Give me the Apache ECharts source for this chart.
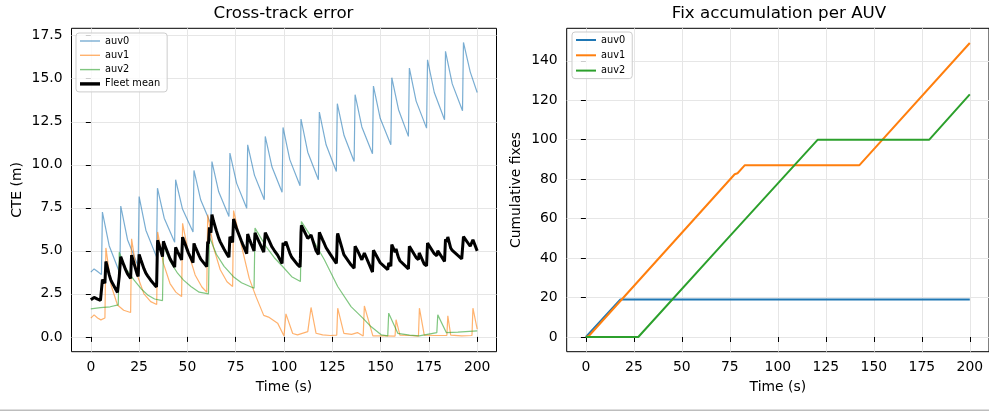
<!DOCTYPE html>
<html>
<head>
<meta charset="utf-8">
<script src="https://cdn.jsdelivr.net/npm/echarts@6/dist/echarts.min.js"></script>
<style>
html, body { margin: 0; padding: 0; background: #fff; }
#main { width: 989px; height: 411px; }
</style>
</head>
<body>
<div id="main"></div>
<script>
// tick positions
const timeTicks = [0, 25, 50, 75, 100, 125, 150, 175, 200];
const cteTicks = [0, 2.5, 5, 7.5, 10, 12.5, 15, 17.5];
const fixTicks = [0, 20, 40, 60, 80, 100, 120, 140];

// cross-track error per AUV, [time (s), CTE (m)]
const cteAuv0 = [
  [0, 3.76], [1.7, 3.95], [3.5, 3.8], [5.5, 3.62],
  [6.0, 7.25], [9.5, 5.3], [15.0, 3.7],
  [15.5, 7.6], [19.0, 5.65], [24.5, 4.1],
  [25.0, 8.15], [28.5, 6.2], [34.0, 4.65],
  [34.5, 8.64], [38.0, 6.9], [43.4, 5.5],
  [43.9, 9.13], [47.4, 7.45], [52.9, 6.1],
  [53.4, 9.67], [56.9, 7.95], [62.2, 6.55],
  [62.7, 10.19], [66.2, 8.43], [71.5, 7.0],
  [72.0, 10.68], [75.5, 8.92], [80.7, 7.48],
  [81.2, 11.16], [84.7, 9.4], [89.8, 7.97],
  [90.3, 11.65], [93.8, 9.87], [99.0, 8.4],
  [99.5, 12.17], [103.0, 10.3], [108.3, 8.78],
  [108.8, 12.66], [112.3, 10.73], [117.8, 9.13],
  [118.3, 13.06], [121.8, 11.16], [127.1, 9.61],
  [127.6, 13.55], [131.1, 11.7], [136.3, 10.19],
  [136.8, 14.07], [140.3, 12.2], [145.8, 10.64],
  [146.3, 14.57], [149.8, 12.7], [155.3, 11.16],
  [155.8, 15.06], [159.3, 13.2], [164.4, 11.65],
  [164.9, 15.62], [168.4, 13.7], [173.8, 12.13],
  [174.3, 16.1], [177.8, 14.2], [183.1, 12.62],
  [183.6, 16.59], [187.1, 14.7], [192.4, 13.14],
  [192.9, 17.11], [196.4, 15.4], [200, 14.2]
];
const cteAuv1 = [
  [0, 1.09], [1.7, 1.28], [3.5, 1.1], [5.2, 0.99], [7.3, 1.1],
  [7.8, 5.17], [10.5, 3.0], [13.8, 1.85], [17.0, 1.55], [20.6, 1.42],
  [21.1, 5.7], [24.0, 3.6], [27.5, 2.5], [31.0, 2.05], [34.1, 1.88],
  [34.6, 6.1], [37.5, 4.3], [41.0, 3.1], [44.0, 2.6], [47.0, 2.34],
  [47.5, 6.6], [50.5, 4.9], [54.0, 3.6], [57.5, 2.9], [60.0, 2.6],
  [60.5, 7.1], [63.5, 5.2], [67.0, 3.9], [70.5, 3.2], [73.4, 2.93],
  [73.9, 7.34], [78.6, 5.0], [82.0, 3.4], [85.5, 2.34], [89.5, 1.25], [92.0, 1.15], [96.7, 0.8], [100.0, 0.05],
  [101.0, 1.34], [104.5, 0.2], [107.0, 0.12], [112.3, 0.31],
  [114.0, 1.71], [116.6, 0.21], [120.0, 0.12], [124.0, 0.08], [127.3, 0.1],
  [127.8, 1.67], [131.0, 0.2], [135.0, 0.15], [138.0, 0.25], [141.0, 0.05],
  [141.6, 1.8], [146.0, 0.06], [152.0, 0.06], [157.5, 0.05],
  [158.0, 1.0], [160.0, 0.1], [165.0, 0.08], [169.6, 0.05],
  [170.1, 1.67], [172.6, 0.1], [178.0, 0.08], [184.3, 0.08],
  [184.8, 1.22], [186.3, 0.1], [192.0, 0.06], [197.3, 0.08],
  [197.8, 1.67], [200, 0.45]
];
const cteAuv2 = [
  [0, 1.63], [5.0, 1.7], [10.0, 1.75], [14.2, 1.86],
  [14.7, 4.92], [18.0, 4.0], [22.4, 3.3], [26.0, 2.8], [29.4, 2.44], [33.0, 2.2], [37.1, 2.11],
  [37.6, 5.3], [41.0, 4.4], [44.9, 3.7], [48.0, 3.3], [51.8, 2.93], [56.1, 2.6], [60.9, 2.5],
  [61.4, 5.8], [65.0, 4.8], [69.0, 4.1], [73.8, 3.5], [78.0, 3.15], [84.5, 2.83],
  [85.0, 6.32], [90.7, 5.25], [95.0, 4.6], [99.3, 4.09], [104.0, 3.5], [108.5, 3.22],
  [109.0, 6.7], [114.0, 5.83], [120.9, 4.48], [127.8, 2.93], [134.7, 1.76], [140.8, 1.09], [145.0, 0.6], [150.3, 0.12], [153.7, 0.06],
  [154.2, 1.38], [158.9, 0.21], [165.0, 0.1], [170.0, 0.06], [179.1, 0.25],
  [179.6, 1.28], [184.0, 0.25], [190.0, 0.28], [200, 0.35]
];

// cumulative fixes, [time (s), count]
const fixAuv0 = [[0, 0], [18, 19], [200, 19]];
const fixAuv1 = [[0, 0], [1.5, 0.5], [77.5, 82.5], [79, 83], [82.7, 87], [142.4, 87], [200, 149]];
const fixAuv2 = [[0, 0], [27.3, 0], [72.6, 48.6], [73.4, 49.1], [120.8, 100], [178.9, 100], [200, 123]];

// fleet mean is the average of the three AUVs
function valueAt(pts, t) {
  for (let i = 1; i < pts.length; i++) {
    if (t <= pts[i][0]) {
      const a = pts[i - 1], b = pts[i];
      return a[1] + (b[1] - a[1]) * (t - a[0]) / (b[0] - a[0]);
    }
  }
  return pts[pts.length - 1][1];
}
const meanTimes = Array.from(new Set([...cteAuv0, ...cteAuv1, ...cteAuv2].map(p => p[0]))).sort((a, b) => a - b);
const fleetMean = meanTimes.map(t => [t, (valueAt(cteAuv0, t) + valueAt(cteAuv1, t) + valueAt(cteAuv2, t)) / 3]);

const FONT = 'DejaVu Sans';
const BLUE = '#1f77b4', ORANGE = '#ff7f0e', GREEN = '#2ca02c';
const FIX = ' (fixes)';   // suffix to keep the right-hand series apart from the left ones

function xAxis(idx) {
  return {
    type: 'value', gridIndex: idx, min: -10, max: 210,
    axisLine: { show: false },
    axisTick: { show: true, customValues: timeTicks, length: 5, lineStyle: { color: '#000', width: 1 } },
    axisLabel: { customValues: timeTicks, margin: 9, fontSize: 13.9, color: '#000', fontFamily: FONT },
    splitLine: { show: true, lineStyle: { color: '#e6e6e6', width: 1 } },
    name: 'Time (s)', nameLocation: 'middle', nameGap: 29,
    nameTextStyle: { fontSize: 13.9, color: '#000', fontFamily: FONT }
  };
}
function yAxis(idx, min, max, ticks, fmt, name, gap) {
  return {
    type: 'value', gridIndex: idx, min: min, max: max,
    axisLine: { show: false },
    axisTick: { show: true, customValues: ticks, length: 5, lineStyle: { color: '#000', width: 1 } },
    axisLabel: { customValues: ticks, margin: 9, fontSize: 13.9, color: '#000', fontFamily: FONT, formatter: fmt },
    splitLine: { show: true, lineStyle: { color: '#e6e6e6', width: 1 } },
    name: name, nameLocation: 'middle', nameGap: gap,
    nameTextStyle: { fontSize: 13.9, color: '#000', fontFamily: FONT }
  };
}
function line(name, data, xi, color, width, opacity, z) {
  return {
    type: 'line', name: name, data: data, xAxisIndex: xi, yAxisIndex: xi,
    symbol: 'none', showSymbol: false, z: z || 2,
    lineStyle: { color: color, width: width, opacity: opacity },
    itemStyle: { color: color }
  };
}
// legend entry drawn as a short bar of the line's width
function item(name, color, opacity, width) {
  return {
    name: name,
    icon: 'path://M0,0H20V' + width + 'H0Z',
    itemStyle: { color: color, opacity: opacity, borderWidth: 0 }
  };
}
function legend(left, top, gap, items) {
  return {
    orient: 'vertical', left: left, top: top, padding: [3, 7, 3, 4],
    itemWidth: 20, itemHeight: 10, itemGap: gap, symbolKeepAspect: true,
    backgroundColor: 'rgba(255,255,255,0.8)', borderColor: '#cccccc', borderWidth: 1, borderRadius: 3,
    textStyle: { fontSize: 9.8, color: '#000', fontFamily: FONT },
    formatter: n => n.replace(FIX, ''),
    data: items
  };
}

const chart = echarts.init(document.getElementById('main'), null, { renderer: 'canvas' });
chart.setOption({
  animation: false,
  backgroundColor: '#fff',
  title: [
    { text: 'Cross-track error', left: 283.5, top: 5, textAlign: 'center', padding: 0,
      textStyle: { fontSize: 16.7, fontWeight: 'normal', color: '#000', fontFamily: FONT } },
    { text: 'Fix accumulation per AUV', left: 779, top: 5, textAlign: 'center', padding: 0,
      textStyle: { fontSize: 16.7, fontWeight: 'normal', color: '#000', fontFamily: FONT } }
  ],
  grid: [
    { left: 71.5, top: 28.3, width: 425, height: 323.4, show: true, borderColor: '#000', borderWidth: 1, backgroundColor: 'transparent' },
    { left: 566.7, top: 28.3, width: 425, height: 323.4, show: true, borderColor: '#000', borderWidth: 1, backgroundColor: 'transparent' }
  ],
  xAxis: [xAxis(0), xAxis(1)],
  yAxis: [
    yAxis(0, -0.86, 17.93, cteTicks, v => v.toFixed(1), 'CTE (m)', 47),
    yAxis(1, -7.45, 156.45, fixTicks, v => String(v), 'Cumulative fixes', 43)
  ],
  legend: [
    legend(76, 33, 4.3, [
      item('auv0', BLUE, 0.6, 1.4),
      item('auv1', ORANGE, 0.6, 1.4),
      item('auv2', GREEN, 0.6, 1.4),
      item('Fleet mean', '#000', 1, 3.4)
    ]),
    legend(572, 32, 5.3, [
      item('auv0' + FIX, BLUE, 1, 2),
      item('auv1' + FIX, ORANGE, 1, 2),
      item('auv2' + FIX, GREEN, 1, 2)
    ])
  ],
  series: [
    line('auv0', cteAuv0, 0, BLUE, 1.2, 0.6),
    line('auv1', cteAuv1, 0, ORANGE, 1.2, 0.6),
    line('auv2', cteAuv2, 0, GREEN, 1.2, 0.6),
    line('Fleet mean', fleetMean, 0, '#000', 3, 1, 3),
    line('auv0' + FIX, fixAuv0, 1, BLUE, 2, 1),
    line('auv1' + FIX, fixAuv1, 1, ORANGE, 2, 1),
    line('auv2' + FIX, fixAuv2, 1, GREEN, 2, 1)
  ],
  graphic: [
    { type: 'rect', shape: { x: 0, y: 409.5, width: 989, height: 1.5 }, style: { fill: '#bdbdbd' }, silent: true }
  ]
});
</script>
</body>
</html>
